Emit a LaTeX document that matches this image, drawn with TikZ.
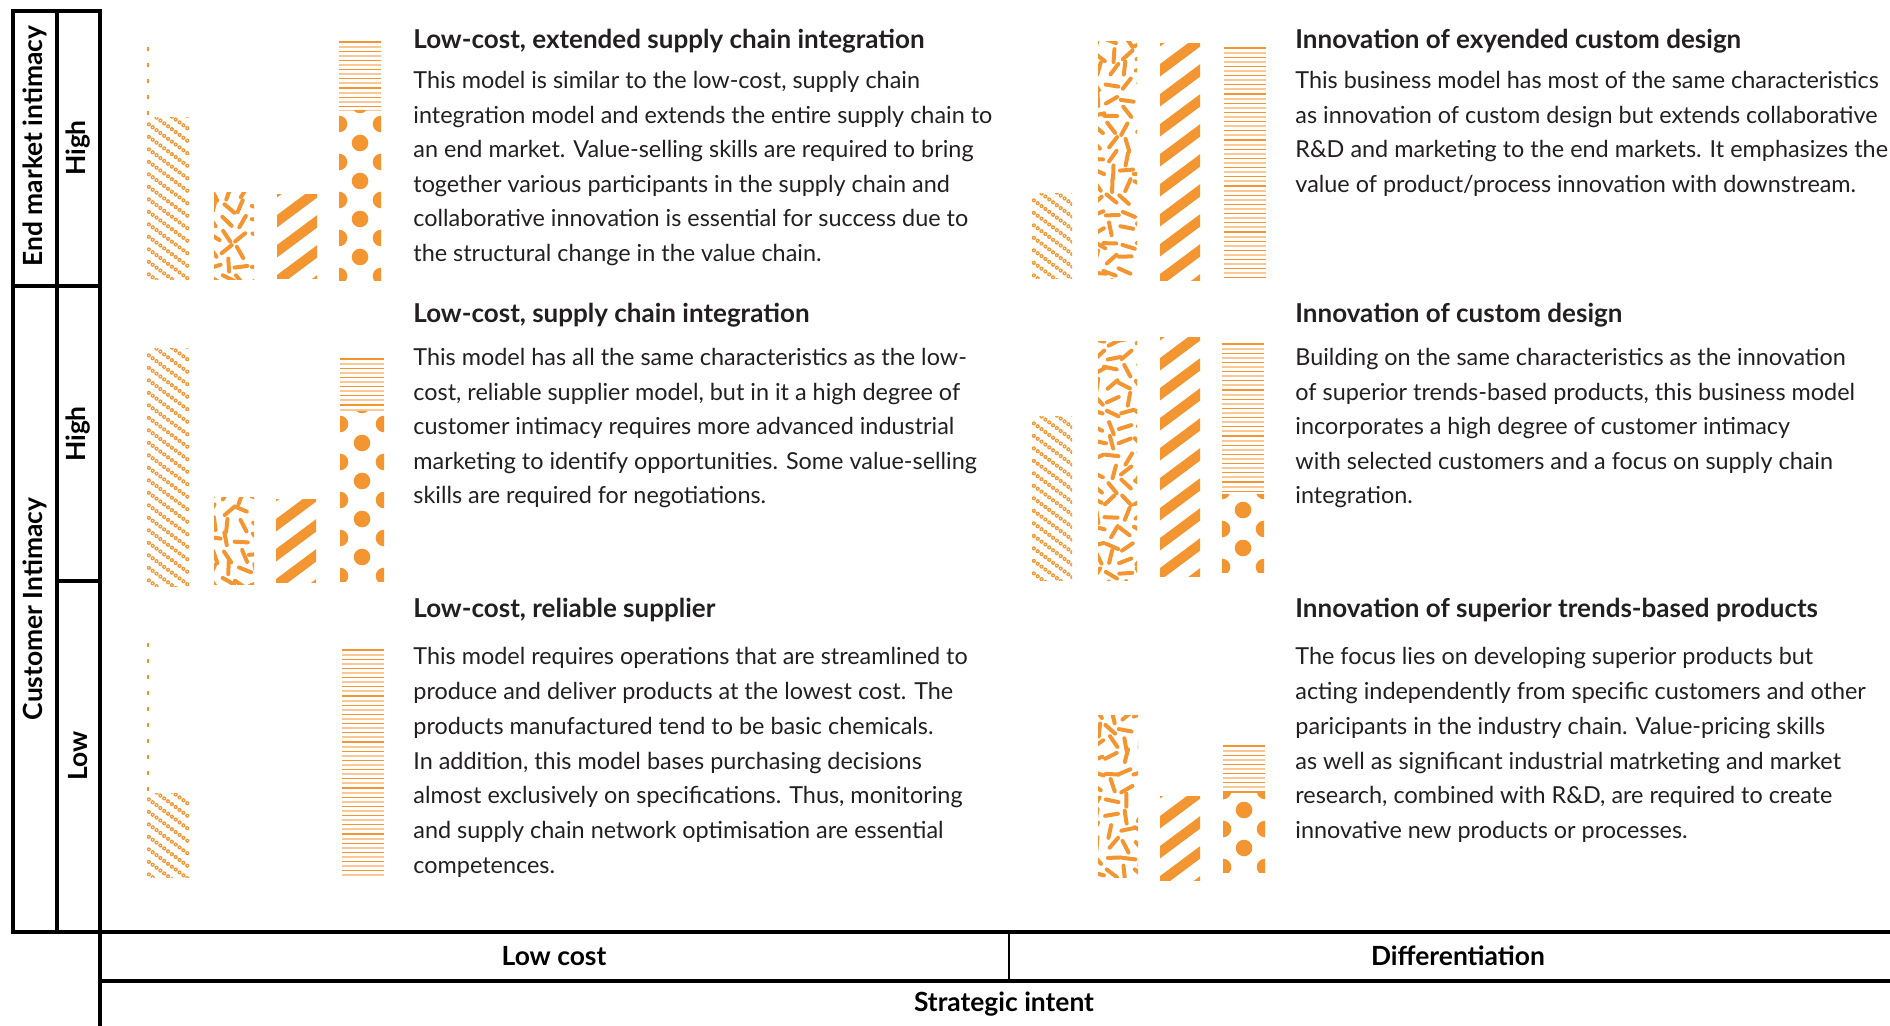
\documentclass[tikz,border=0pt]{standalone}
\usepackage{fontspec}
\setmainfont{Lato}
\definecolor{barorange}{HTML}{F39530}
\definecolor{barlight}{HTML}{F9C896}
\definecolor{bodytext}{HTML}{231F20}
\tikzset{
  every picture/.style={x=0.5pt, y=-0.5pt},
  tableline/.style={line width=1.7pt},
  thintableline/.style={line width=1pt},
  axis label/.style={font=\bfseries\fontsize{13.2}{15}\selectfont, inner sep=0pt},
  side label/.style={axis label, rotate=90},
  model title/.style={font=\bfseries\fontsize{13}{15}\selectfont,
    anchor=mid west, inner sep=0pt, text=bodytext},
  model text/.style={font=\fontsize{11.7}{14}\selectfont,
    anchor=mid west, inner sep=0pt, text=bodytext},
  dotchain/.style={barorange, line width=2.1pt,
    dash pattern=on 0pt off 2.4pt, line cap=round},
  dotchain hole/.style={white, line width=0.7pt,
    dash pattern=on 0pt off 2.4pt, line cap=round},
  sprinkle/.style={barorange, line width=2pt, line cap=round},
  stripe/.style={barorange, line width=5pt},
  hairline/.style={barorange, line width=0.6pt},
  hairline light/.style={barlight, line width=1pt},
  guide/.style={barorange, line width=0.6pt, dash pattern=on 2pt off 6pt}
}
% bar fillings, #1,#2 = top left corner, #3,#4 = bottom right corner
\newcommand\chainbar[4]{%
  \begin{scope}
    \clip (#1,#2) rectangle (#3,#4);
    \foreach \k in {0,...,26} {
      \draw[dotchain] (#1-2,#2-34+12.5*\k) -- ++(60,45);
      \draw[dotchain hole] (#1-2,#2-34+12.5*\k) -- ++(60,45);
    }
  \end{scope}}
\newcommand\sprinklebar[4]{%
  \begin{scope}
    \clip (#1,#2) rectangle (#3,#4);
    \foreach \i in {0,...,3}
      \foreach \j in {0,...,17} {
        \pgfmathsetmacro\sx{#1-3+14.5*\i+5*rnd}
        \pgfmathsetmacro\sy{#2-3+14.5*\j+5*rnd}
        \pgfmathsetmacro\sa{180*rnd}
        \draw[sprinkle] (\sx,\sy) ++(\sa:6.5) -- ++(\sa+180:13);
      }
  \end{scope}}
\newcommand\stripebar[4]{%
  \begin{scope}
    \clip (#1,#2) rectangle (#3,#4);
    \foreach \k in {0,...,10}
      \draw[stripe] (#1-5,#2+30*\k) -- ++(55,-41);
  \end{scope}}
\newcommand\linebar[4]{%
  \begin{scope}
    \clip (#1,#2) rectangle (#3,#4);
    \foreach \k in {0,2,...,52}
      \draw[hairline] (#1,#2+1+4.6*\k) -- (#3,#2+1+4.6*\k);
    \foreach \k in {1,3,...,51}
      \draw[hairline light] (#1,#2+1+4.6*\k) -- (#3,#2+1+4.6*\k);
  \end{scope}}
\newcommand\dotbar[4]{%
  \begin{scope}
    \clip (#1,#2) rectangle (#3,#4);
    \foreach \k in {0,...,6}
      \fill[barorange] (#1,#4-5-38*\k) circle[radius=8.3]
        (#3,#4-5-38*\k) circle[radius=8.3]
        ({(#1+#3)/2},#4-24-38*\k) circle[radius=8.3];
  \end{scope}}

\begin{document}
\begin{tikzpicture}
  \useasboundingbox (0,0) rectangle (1890,1026);
  \pgfmathsetseed{11}

  % frame
  \draw[tableline] (100,1026) -- (100,11) -- (13,11) -- (13,932) -- (1890,932);
  \draw[tableline] (57,11) -- (57,932);
  \draw[tableline] (13,286) -- (100,286);
  \draw[tableline] (57,581) -- (100,581);
  \draw[tableline] (100,981) -- (1890,981);
  \draw[thintableline] (1009,932) -- (1009,981);

  \node[side label] (endmarket) at (35,146) {End market intimacy};
  \node[side label] (endhigh) at (78.5,148) {High};
  \node[side label] (customer) at (35,609) {Customer Intimacy};
  \node[side label] (custhigh) at (78.5,434) {High};
  \node[side label] (custlow) at (78.5,756) {Low};
  \node[axis label] (lowcost) at (554,956) {Low cost};
  \node[axis label] (differ) at (1458,956) {Differentiation};
  \node[axis label] (intent) at (1004,1004) {Strategic intent};

  % bars
  \draw[guide] (148,47) -- (148,118);
  \chainbar{147}{118}{189}{280}
  \sprinklebar{214}{193}{254}{280}
  \stripebar{277}{195}{317}{279}
  \linebar{339}{41}{381}{111}
  \dotbar{339}{111}{381}{281}

  \chainbar{1032}{194}{1072}{279}
  \sprinklebar{1098}{42}{1137}{279}
  \stripebar{1160}{44}{1200}{281}
  \linebar{1224}{47}{1266}{278}

  \chainbar{147}{349}{189}{586}
  \sprinklebar{214}{497}{254}{584}
  \stripebar{276}{499}{316}{582}
  \linebar{340}{358}{384}{412}
  \dotbar{340}{412}{384}{581}

  \chainbar{1032}{417}{1072}{580}
  \sprinklebar{1098}{342}{1137}{580}
  \stripebar{1160}{338}{1200}{576}
  \linebar{1222}{343}{1264}{494}
  \dotbar{1222}{494}{1264}{572}

  \draw[guide] (148,643) -- (148,793);
  \chainbar{147}{793}{189}{877}
  \linebar{342}{649}{384}{877}

  \sprinklebar{1098}{715}{1138}{877}
  \stripebar{1160}{796}{1200}{880}
  \linebar{1223}{745}{1265}{792}
  \dotbar{1223}{792}{1265}{872}

  % texts
  \node[model title] (tl) at (413,43) {Low-cost, extended supply chain integration};
  \foreach \t [count=\i] in {{This model is similar to the low-cost, supply chain},
      {integration model and extends the entire supply chain to},
      {an end market. Value-selling skills are required to bring},
      {together various participants in the supply chain and},
      {collaborative innovation is essential for success due to},
      {the structural change in the value chain.}}
    \node[model text] (tl-\i) at (413,49.1+34.5*\i) {\t};

  \node[model title] (tr) at (1295,43) {Innovation of exyended custom design};
  \foreach \t [count=\i] in {{This business model has most of the same characteristics},
      {as innovation of custom design but extends collaborative},
      {R\&D and marketing to the end markets. It emphasizes the},
      {value of product/process innovation with downstream.}}
    \node[model text] (tr-\i) at (1295,49.1+34.5*\i) {\t};

  \node[model title] (ml) at (413,317.4) {Low-cost, supply chain integration};
  \foreach \t [count=\i] in {{This model has all the same characteristics as the low-},
      {cost, reliable supplier model, but in it a high degree of},
      {customer intimacy requires more advanced industrial},
      {marketing to identify opportunities. Some value-selling},
      {skills are required for negotiations.}}
    \node[model text] (ml-\i) at (413,326.4+34.4*\i) {\t};

  \node[model title] (mr) at (1295,317.4) {Innovation of custom design};
  \foreach \t [count=\i] in {{Building on the same characteristics as the innovation},
      {of superior trends-based products, this business model},
      {incorporates a high degree of customer intimacy},
      {with selected customers and a focus on supply chain},
      {integration.}}
    \node[model text] (mr-\i) at (1295,326.4+34.4*\i) {\t};

  \node[model title] (bl) at (413,612.7) {Low-cost, reliable supplier};
  \foreach \t [count=\i] in {{This model requires operations that are streamlined to},
      {produce and deliver products at the lowest cost. The},
      {products manufactured tend to be basic chemicals.},
      {In addition, this model bases purchasing decisions},
      {almost exclusively on specifications. Thus, monitoring},
      {and supply chain network optimisation are essential},
      {competences.}}
    \node[model text] (bl-\i) at (413,625.05+34.75*\i) {\t};

  \node[model title] (br) at (1295,612.7) {Innovation of superior trends-based products};
  \foreach \t [count=\i] in {{The focus lies on developing superior products but},
      {acting independently from specific customers and other},
      {paricipants in the industry chain. Value-pricing skills},
      {as well as significant industrial matrketing and market},
      {research, combined with R\&D, are required to create},
      {innovative new products or processes.}}
    \node[model text] (br-\i) at (1295,625.05+34.75*\i) {\t};
\end{tikzpicture}
\end{document}
